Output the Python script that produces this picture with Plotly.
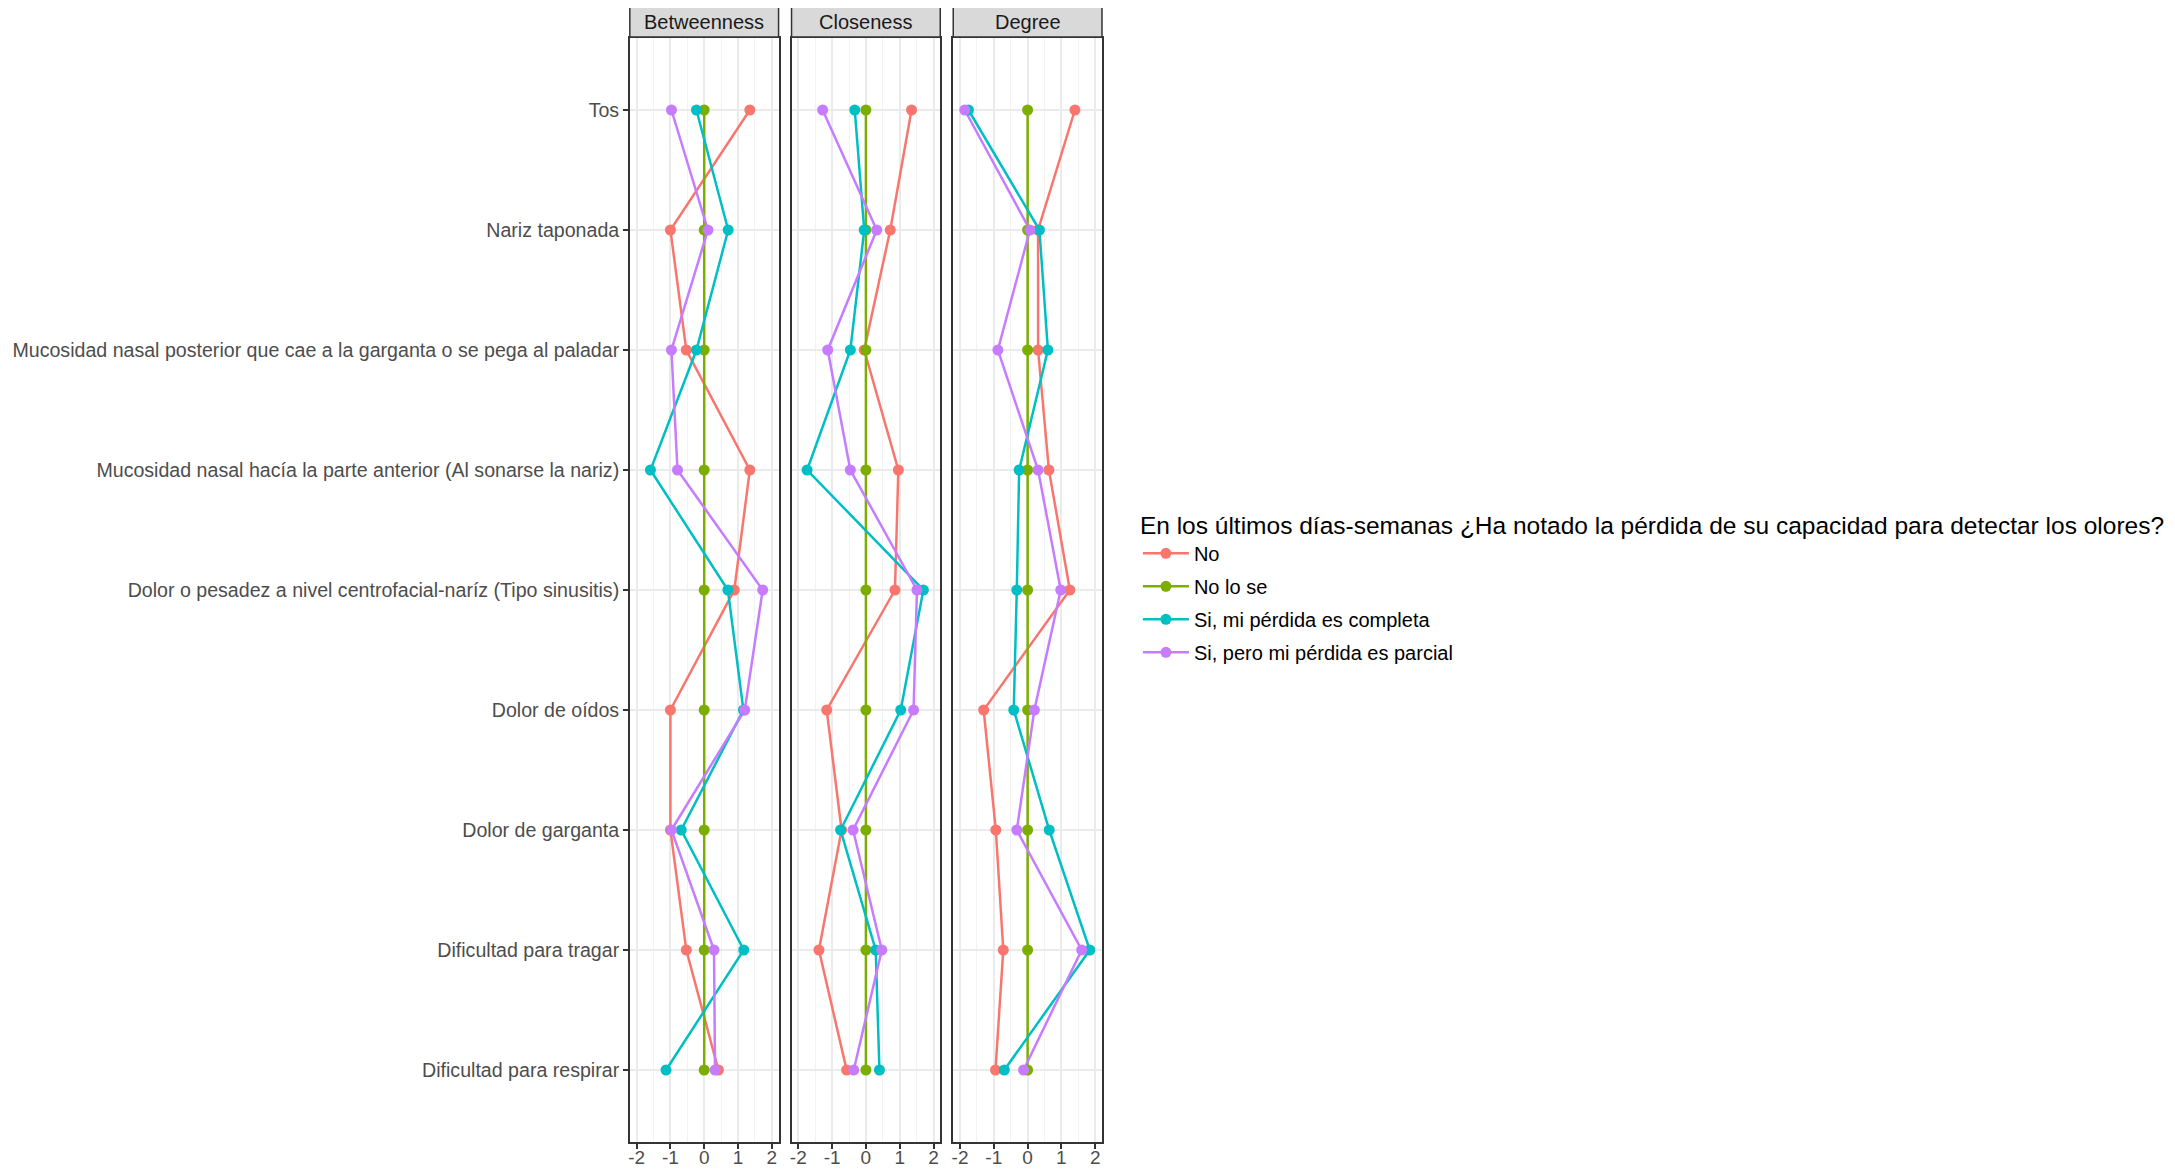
import plotly.graph_objects as go

# browser body margin is 8px, so the figure is shrunk by 16px and all
# pixel positions are shifted by 8px
OFF = 8
W, H = 2175 - 2 * OFF, 1175 - 2 * OFF

categories = [
    "Tos",
    "Nariz taponada",
    "Mucosidad nasal posterior que cae a la garganta o se pega al paladar",
    "Mucosidad nasal hacía la parte anterior (Al sonarse la nariz)",
    "Dolor o pesadez a nivel centrofacial-naríz (Tipo sinusitis)",
    "Dolor de oídos",
    "Dolor de garganta",
    "Dificultad para tragar",
    "Dificultad para respirar",
]

panels = ["Betweenness", "Closeness", "Degree"]

groups = ["No", "No lo se", "Si, mi pérdida es completa", "Si, pero mi pérdida es parcial"]
colors = ["#F8766D", "#7CAE00", "#00BFC4", "#C77CFF"]

# values in category order (Tos ... Dificultad para respirar)
betweenness_no = [1.35, -1.00, -0.53, 1.35, 0.89, -1.00, -1.00, -0.53, 0.42]
betweenness_nolose = [0, 0, 0, 0, 0, 0, 0, 0, 0]
betweenness_completa = [-0.23, 0.71, -0.23, -1.59, 0.70, 1.16, -0.68, 1.17, -1.13]
betweenness_parcial = [-0.97, 0.11, -0.97, -0.79, 1.73, 1.20, -0.97, 0.29, 0.32]

closeness_no = [1.35, 0.72, -0.05, 0.96, 0.86, -1.16, -0.72, -1.39, -0.57]
closeness_nolose = [0, 0, 0, 0, 0, 0, 0, 0, 0]
closeness_completa = [-0.33, -0.05, -0.46, -1.74, 1.70, 1.03, -0.75, 0.29, 0.40]
closeness_parcial = [-1.28, 0.32, -1.13, -0.46, 1.51, 1.41, -0.38, 0.47, -0.36]

degree_no = [1.40, 0.31, 0.31, 0.63, 1.25, -1.30, -0.94, -0.72, -0.95]
degree_nolose = [0, 0, 0, 0, 0, 0, 0, 0, 0]
degree_completa = [-1.75, 0.35, 0.60, -0.25, -0.32, -0.41, 0.64, 1.84, -0.69]
degree_parcial = [-1.86, 0.07, -0.88, 0.31, 0.98, 0.20, -0.32, 1.60, -0.12]

data = {
    "Betweenness": [betweenness_no, betweenness_nolose, betweenness_completa, betweenness_parcial],
    "Closeness": [closeness_no, closeness_nolose, closeness_completa, closeness_parcial],
    "Degree": [degree_no, degree_nolose, degree_completa, degree_parcial],
}

legend_title = "En los últimos días-semanas ¿Ha notado la pérdida de su capacidad para detectar los olores?"
x_ticks = [-2, -1, 0, 1, 2]

FONT = "Liberation Sans, Arial, Helvetica, sans-serif"

# layout geometry (target pixels in the 2175x1175 window)
panel_x = [(631, 780), (793, 942), (955, 1104)]
panel_top, panel_bottom = 38, 1142
strip_top = 6

def px(v):
    return (v - OFF) / W

def py(v):
    return 1 - (v - OFF) / H

fig = go.Figure()

LW = 2.5
MS = 11

# lines first (all panels), then points, like ggplot layering
for layer in ["lines", "markers"]:
    for pi, p in enumerate(panels):
        xa = "x" if pi == 0 else f"x{pi+1}"
        ya = "y" if pi == 0 else f"y{pi+1}"
        for gi, g in enumerate(groups):
            vals = data[p][gi]
            if layer == "lines":
                fig.add_trace(go.Scatter(
                    x=vals, y=categories, mode="lines", xaxis=xa, yaxis=ya,
                    line=dict(color=colors[gi], width=LW), showlegend=False,
                    hoverinfo="skip"))
            else:
                fig.add_trace(go.Scatter(
                    x=vals, y=categories, mode="markers", xaxis=xa, yaxis=ya,
                    marker=dict(color=colors[gi], size=MS), showlegend=False,
                    name=g))

# legend entries
for gi, g in enumerate(groups):
    fig.add_trace(go.Scatter(
        x=[None], y=[None], mode="lines+markers", name=g, legendgroup=f"g{gi}",
        line=dict(color=colors[gi], width=LW),
        marker=dict(color=colors[gi], size=MS), showlegend=True))

layout = dict(
    width=W, height=H,
    margin=dict(l=0, r=0, t=0, b=0),
    paper_bgcolor="white",
    plot_bgcolor="white",
    font=dict(family=FONT, size=20, color="#4D4D4D"),
    legend=dict(
        x=px(1140), y=py(502), xanchor="left", yanchor="top",
        title=dict(text=legend_title, font=dict(size=24.5, color="#000000")),
        font=dict(size=20, color="#000000"),
        itemwidth=46, tracegroupgap=4, bgcolor="rgba(0,0,0,0)",
    ),
    shapes=[], annotations=[],
)

cat_order = list(reversed(categories))

for pi, p in enumerate(panels):
    xkey = "xaxis" if pi == 0 else f"xaxis{pi+1}"
    ykey = "yaxis" if pi == 0 else f"yaxis{pi+1}"
    ya = "y" if pi == 0 else f"y{pi+1}"
    xa = "x" if pi == 0 else f"x{pi+1}"
    x0, x1 = panel_x[pi]
    layout[xkey] = dict(
        domain=[px(x0), px(x1)], anchor=ya, range=[-2.2, 2.2],
        tickmode="array", tickvals=x_ticks, ticktext=[str(t) for t in x_ticks],
        showgrid=True, gridcolor="#EBEBEB", gridwidth=2,
        minor=dict(dtick=0.5, tick0=0, showgrid=True, gridcolor="#F3F3F3", gridwidth=1.2, ticks=""),
        zeroline=False, showline=True, mirror=True, linecolor="#333333", linewidth=1.5,
        ticks="outside", ticklen=5, tickwidth=1.5, tickcolor="#333333",
        ticklabelstandoff=-8,
        tickfont=dict(size=19, color="#4D4D4D"), automargin=False, fixedrange=True,
    )
    layout[ykey] = dict(
        domain=[py(panel_bottom), py(panel_top)], anchor=xa,
        type="category", categoryorder="array", categoryarray=cat_order,
        range=[-0.6, len(categories) - 0.4],
        showgrid=True, gridcolor="#EBEBEB", gridwidth=2, zeroline=False,
        showline=True, mirror=True, linecolor="#333333", linewidth=1.5,
        showticklabels=(pi == 0),
        ticks="outside" if pi == 0 else "", ticklen=5, tickwidth=1.5, tickcolor="#333333",
        tickfont=dict(size=19.6, color="#4D4D4D"), automargin=False, fixedrange=True,
    )
    if pi > 0:
        layout[ykey]["matches"] = "y"
    # strip
    layout["shapes"].append(dict(
        type="rect", xref="paper", yref="paper",
        x0=px(x0), x1=px(x1), y0=py(panel_top - 1), y1=py(strip_top),
        fillcolor="#D9D9D9", line=dict(color="#333333", width=1.5), layer="above"))
    layout["annotations"].append(dict(
        text=p, xref="paper", yref="paper", x=px((x0 + x1) / 2), y=py((strip_top + panel_top) / 2),
        xanchor="center", yanchor="middle", showarrow=False,
        font=dict(size=20, color="#1A1A1A", family=FONT)))

fig.update_layout(**layout)
fig.write_html("out.html")
